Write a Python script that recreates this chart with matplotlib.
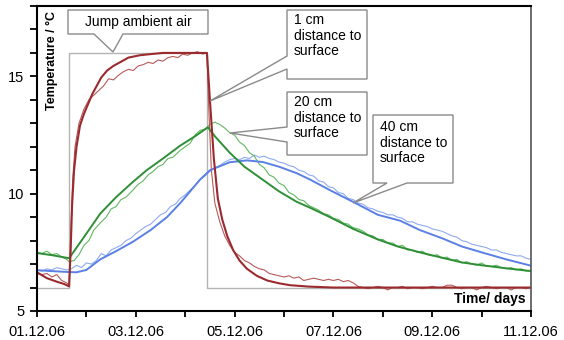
import matplotlib
matplotlib.use("Agg")
import matplotlib.pyplot as plt
from matplotlib.patches import Polygon
from matplotlib.ticker import MultipleLocator

plt.rcParams['font.family'] = ['Liberation Sans', 'DejaVu Sans']

# time in days after 01.12.06
date_labels = ['01.12.06', '03.12.06', '05.12.06', '07.12.06', '09.12.06', '11.12.06']
date_pos = [0, 2, 4, 6, 8, 10]

# ambient air step
t_air = [0.0, 0.65, 0.65, 3.44, 3.44, 10.0]
T_air = [6.0, 6.0, 16.0, 16.0, 6.0, 6.0]

# 1 cm - model
t_1m = [0.0, 0.2, 0.4, 0.55, 0.65, 0.68, 0.71, 0.75, 0.8, 0.87, 0.95, 1.03, 1.12, 1.21,
        1.3, 1.42, 1.55, 1.68, 1.85, 2.08, 2.3, 2.55, 3.0, 3.44, 3.5, 3.58, 3.66, 3.75,
        3.85, 3.97, 4.1, 4.25, 4.45, 4.66, 4.9, 5.12, 5.5, 6.0, 10.0]
T_1m = [6.65, 6.4, 6.25, 6.15, 6.05, 7.5, 9.5, 11.0, 12.0, 12.9, 13.4, 13.8, 14.25, 14.6,
        14.95, 15.25, 15.45, 15.6, 15.8, 15.9, 15.95, 16.0, 16.0, 16.0, 14.0, 11.5, 9.8, 8.9,
        8.2, 7.6, 7.15, 6.8, 6.5, 6.3, 6.18, 6.1, 6.04, 6.0, 6.0]

# 1 cm - measured
t_1d = [0.0, 0.1, 0.2, 0.3, 0.4, 0.5, 0.6, 0.65, 0.68, 0.72, 0.77, 0.85, 0.95, 1.05, 1.15,
        1.25, 1.35, 1.45, 1.55, 1.65, 1.75, 1.85, 1.95, 2.05, 2.15, 2.25, 2.35, 2.45, 2.55,
        2.65, 2.75, 2.85, 2.95, 3.05, 3.15, 3.25, 3.35, 3.44, 3.48, 3.53, 3.6, 3.7, 3.8,
        3.9, 4.0, 4.1, 4.2, 4.3, 4.4, 4.5, 4.6, 4.7, 4.8, 4.9, 5.0, 5.1, 5.2, 5.3, 5.4,
        5.5, 5.6, 5.7, 5.8, 5.9, 6.0, 6.1, 6.2, 6.3, 6.4, 6.5, 6.6, 6.7, 6.8, 6.9, 7.0,
        7.1, 7.2, 7.3, 7.4, 7.5, 7.6, 7.7, 7.8, 7.9, 8.0, 8.1, 8.2, 8.3, 8.4, 8.5, 8.6,
        8.7, 8.8, 8.9, 9.0, 9.1, 9.2, 9.3, 9.4, 9.5, 9.6, 9.7, 9.8, 9.9, 10.0]
T_1d = [6.6, 6.55, 6.6, 6.45, 6.55, 6.3, 6.2, 6.1, 8.0, 10.5, 12.0, 13.0, 13.6, 14.0, 14.2,
        14.4, 14.6, 14.9, 14.85, 15.05, 15.2, 15.3, 15.25, 15.45, 15.5, 15.6, 15.55, 15.7, 15.65,
        15.8, 15.85, 15.8, 15.95, 15.9, 16.0, 16.05, 15.95, 16.0, 13.5, 11.0, 9.6, 8.8, 8.2,
        7.8, 7.5, 7.35, 7.15, 7.05, 6.9, 6.8, 6.75, 6.6, 6.55, 6.5, 6.45, 6.5, 6.4, 6.45, 6.3,
        6.35, 6.4, 6.35, 6.3, 6.35, 6.3, 6.35, 6.25, 6.3, 6.2, 6.05, 6.0, 5.95, 6.0, 6.05, 6.0,
        5.9, 6.0, 6.0, 6.05, 5.95, 6.0, 6.0, 5.95, 6.0, 6.05, 6.0, 6.0, 6.1, 6.1, 6.0, 5.95,
        6.0, 6.0, 5.9, 6.0, 6.05, 6.0, 5.95, 6.0, 6.0, 5.9, 6.0, 6.0, 5.95, 6.0]

# 20 cm - model
t_20m = [0.0, 0.3, 0.65, 0.8, 1.0, 1.28, 1.6, 1.94, 2.22, 2.55, 2.9, 3.2, 3.46, 3.6, 3.75,
         3.9, 4.2, 4.5, 4.9, 5.26, 5.53, 5.93, 6.4, 6.9, 7.3, 7.75, 8.2, 8.6, 9.0, 9.5, 10.0]
T_20m = [7.47, 7.38, 7.25, 7.7, 8.3, 9.15, 9.85, 10.5, 11.0, 11.5, 12.05, 12.45, 12.83, 12.45, 12.1,
         11.75, 11.15, 10.7, 10.1, 9.65, 9.4, 9.0, 8.5, 8.05, 7.75, 7.5, 7.27, 7.07, 6.95, 6.82, 6.7]

# 20 cm - measured
t_20d = [0.0, 0.1, 0.2, 0.3, 0.4, 0.5, 0.6, 0.65, 0.75, 0.85, 0.95, 1.05, 1.15, 1.28, 1.4,
         1.5, 1.6, 1.7, 1.8, 1.94, 2.05, 2.15, 2.25, 2.35, 2.45, 2.55, 2.65, 2.75, 2.9, 3.0,
         3.1, 3.2, 3.3, 3.4, 3.5, 3.6, 3.7, 3.8, 3.9, 4.0, 4.1, 4.2, 4.3, 4.4, 4.5, 4.6,
         4.7, 4.8, 4.9, 5.0, 5.1, 5.2, 5.3, 5.4, 5.5, 5.6, 5.7, 5.8, 5.9, 6.0, 6.1, 6.2,
         6.3, 6.4, 6.5, 6.6, 6.7, 6.8, 6.9, 7.0, 7.1, 7.2, 7.3, 7.4, 7.5, 7.6, 7.7, 7.8,
         7.9, 8.0, 8.1, 8.2, 8.3, 8.4, 8.5, 8.6, 8.7, 8.8, 8.9, 9.0, 9.1, 9.2, 9.3, 9.4,
         9.5, 9.6, 9.7, 9.8, 9.9, 10.0]
T_20d = [7.5, 7.45, 7.55, 7.4, 7.45, 7.3, 7.2, 7.1, 7.15, 7.4, 7.8, 8.0, 8.45, 8.75, 9.0,
         9.35, 9.45, 9.75, 9.85, 10.15, 10.4, 10.55, 10.8, 10.95, 11.15, 11.25, 11.5, 11.55, 11.85, 12.0,
         12.15, 12.5, 12.7, 12.75, 12.95, 13.05, 12.95, 12.8, 12.6, 12.5, 12.2, 12.05, 11.75, 11.6, 11.25, 11.1,
         10.8, 10.7, 10.45, 10.35, 10.05, 9.95, 9.75, 9.7, 9.5, 9.4, 9.3, 9.15, 9.1, 8.95, 8.9, 8.75,
         8.7, 8.55, 8.5, 8.4, 8.25, 8.2, 8.05, 8.05, 7.9, 7.9, 7.75, 7.8, 7.6, 7.6, 7.5, 7.55,
         7.4, 7.35, 7.4, 7.25, 7.3, 7.15, 7.2, 7.05, 7.1, 7.0, 6.95, 7.05, 6.9, 6.9, 6.95, 6.85,
         6.8, 6.85, 6.75, 6.8, 6.7, 6.75]

# 40 cm - model
t_40m = [0.0, 0.3, 0.65, 0.8, 1.0, 1.28, 1.6, 1.94, 2.3, 2.63, 2.9, 3.3, 3.5, 3.9, 4.25,
         4.57, 4.9, 5.26, 5.53, 5.93, 6.4, 6.9, 7.35, 7.75, 8.2, 8.6, 9.0, 9.5, 10.0]
T_40m = [6.74, 6.7, 6.66, 6.65, 6.75, 7.2, 7.55, 7.95, 8.45, 9.0, 9.6, 10.6, 11.0, 11.34, 11.42,
         11.35, 11.15, 10.87, 10.6, 10.15, 9.65, 9.1, 8.85, 8.45, 8.1, 7.75, 7.5, 7.2, 6.93]

# 40 cm - measured
t_40d = [0.0, 0.1, 0.2, 0.3, 0.4, 0.5, 0.6, 0.7, 0.8, 0.9, 1.0, 1.1, 1.2, 1.3, 1.4, 1.5,
         1.6, 1.7, 1.8, 1.9, 2.0, 2.1, 2.2, 2.3, 2.4, 2.5, 2.6, 2.7, 2.8, 2.9, 3.0, 3.1,
         3.2, 3.3, 3.4, 3.5, 3.6, 3.7, 3.8, 3.9, 4.0, 4.1, 4.2, 4.3, 4.4, 4.5, 4.6, 4.7,
         4.8, 4.9, 5.0, 5.1, 5.2, 5.3, 5.4, 5.5, 5.6, 5.7, 5.8, 5.9, 6.0, 6.1, 6.2, 6.3,
         6.4, 6.5, 6.6, 6.7, 6.8, 6.9, 7.0, 7.1, 7.2, 7.3, 7.4, 7.5, 7.6, 7.7, 7.8, 7.9,
         8.0, 8.1, 8.2, 8.3, 8.4, 8.5, 8.6, 8.7, 8.8, 8.9, 9.0, 9.1, 9.2, 9.3, 9.4, 9.5,
         9.6, 9.7, 9.8, 9.9, 10.0]
T_40d = [6.75, 6.7, 6.8, 6.75, 6.85, 6.8, 6.75, 6.8, 6.95, 6.85, 7.05, 7.0, 7.15, 7.45, 7.35, 7.6,
         7.7, 7.8, 8.0, 8.1, 8.3, 8.45, 8.6, 8.7, 8.9, 9.1, 9.2, 9.45, 9.55, 9.8, 9.95, 10.15,
         10.35, 10.6, 10.75, 10.95, 11.1, 11.2, 11.35, 11.45, 11.5, 11.45, 11.55, 11.5, 11.65, 11.55, 11.6, 11.5,
         11.45, 11.35, 11.3, 11.2, 11.15, 11.0, 10.95, 10.8, 10.75, 10.55, 10.5, 10.3, 10.25, 10.05, 10.0, 9.8,
         9.75, 9.6, 9.55, 9.4, 9.35, 9.25, 9.2, 9.1, 9.1, 9.0, 8.95, 8.8, 8.8, 8.7, 8.65, 8.6,
         8.5, 8.45, 8.4, 8.3, 8.2, 8.15, 8.0, 7.95, 7.85, 7.8, 7.75, 7.7, 7.6, 7.6, 7.5, 7.45,
         7.4, 7.35, 7.35, 7.25, 7.2]

fig = plt.figure(figsize=(5.64, 3.4), dpi=100)
ax = fig.add_axes([37 / 564, 29 / 340, 494 / 564, 305 / 340])

ax.plot(t_air, T_air, color='#b4b4b4', lw=1.0)
ax.plot(t_40d, T_40d, color='#8eaaf2', lw=0.8)
ax.plot(t_20d, T_20d, color='#62b862', lw=0.8)
ax.plot(t_1d, T_1d, color='#b85a5a', lw=0.8)
ax.plot(t_40m, T_40m, color='#5a80e4', lw=1.4)
ax.plot(t_20m, T_20m, color='#2e8f36', lw=1.4)
ax.plot(t_1m, T_1m, color='#9a2a2e', lw=1.5)

ax.set_xlim(0, 10)
ax.set_ylim(5, 18)
ax.set_xticks(date_pos)
ax.set_xticklabels(date_labels)
ax.xaxis.set_minor_locator(MultipleLocator(1))
ax.set_yticks([5, 10, 15])
ax.yaxis.set_minor_locator(MultipleLocator(1))
ax.tick_params(axis='both', which='both', direction='out', width=1.3, labelsize=10.5)
ax.tick_params(axis='x', which='both', length=4, pad=6)
ax.tick_params(axis='y', which='both', length=5, pad=4)

for s in ['left', 'bottom', 'top']:
    ax.spines[s].set_linewidth(1.5)
    ax.spines[s].set_color('black')
ax.spines['right'].set_linewidth(1.2)
ax.spines['right'].set_color('#555555')

fig.text(52 / 564, 1 - 60 / 340, 'Temperature / °C', rotation=90, fontsize=9,
         fontweight='bold', ha='center', va='center')
ax.text(0.99, 0.015, 'Time/ days', transform=ax.transAxes, fontsize=10,
        fontweight='bold', ha='right', va='bottom')


def px(x, y):
    return ((x - 37) / 494, (311 - y) / 305)


callouts = [
    ([(68, 10), (208, 10), (208, 34), (123, 34), (113, 52), (94, 34), (68, 34)],
     (138, 22), 'Jump ambient air', 'center'),
    ([(287, 10), (367, 10), (367, 79), (287, 79), (287, 69), (210, 101), (287, 56)],
     (294, 13), '1 cm\ndistance to\nsurface', 'left'),
    ([(287, 92), (367, 92), (367, 155), (287, 155), (287, 142), (230, 133), (287, 127)],
     (294, 95), '20 cm\ndistance to\nsurface', 'left'),
    ([(373, 115), (453, 115), (453, 183), (407, 183), (353, 203), (387, 183), (373, 183)],
     (380, 120), '40 cm\ndistance to\nsurface', 'left'),
]
for verts, (tx, ty), txt, align in callouts:
    poly = Polygon([px(*v) for v in verts], closed=True, transform=ax.transAxes,
                   facecolor='white', edgecolor='#8a8a8a', lw=1.0, zorder=5, clip_on=False)
    ax.add_patch(poly)
    if align == 'center':
        ax.text(*px(tx, ty), txt, transform=ax.transAxes, fontsize=10, ha='center',
                va='center', zorder=6)
    else:
        ax.text(*px(tx, ty), txt, transform=ax.transAxes, fontsize=10, ha='left',
                va='top', linespacing=1.15, zorder=6)

fig.savefig('out.png', dpi=100)
